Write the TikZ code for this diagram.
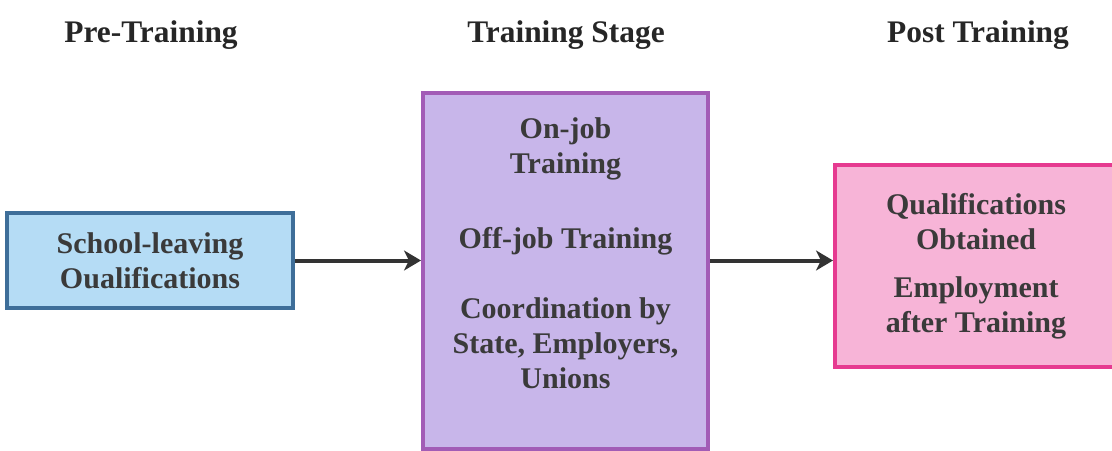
\documentclass[tikz,border=0pt]{standalone}
\usepackage{fontspec}
\setmainfont{Liberation Serif}
\usetikzlibrary{arrows.meta,positioning}

\definecolor{leavefill}{HTML}{B5DCF5}
\definecolor{leaveline}{HTML}{3E6E99}
\definecolor{trainfill}{HTML}{C8B6EA}
\definecolor{trainline}{HTML}{A25CB6}
\definecolor{postfill}{HTML}{F7B4D7}
\definecolor{postline}{HTML}{E63A90}
\definecolor{inkgray}{HTML}{3A3A3A}
\definecolor{arrowgray}{HTML}{333333}

\newcommand*{\picw}{1112}
\newcommand*{\pich}{450}
\newcommand*{\stagefont}{\fontsize{15}{17.5}\selectfont\bfseries}
\newcommand*{\headfont}{\fontsize{15.7}{18}\selectfont\bfseries}

\begin{document}
\begin{tikzpicture}
[
	x=0.5pt,
	y=0.5pt,
	label/.style={font=\stagefont,text=inkgray,inner sep=0pt,align=center},
	stagebox/.style={label,draw,line width=2pt},
	heading/.style={font=\headfont,text=black!85,inner sep=0pt,anchor=base},
	flow/.style={-{Stealth[length=8.5pt,width=10pt,inset=2.5pt]},line width=2pt,arrowgray}
]

	\useasboundingbox (0,0) rectangle (\picw,\pich);
	\clip (0,0) rectangle (\picw,\pich);

	% column headings
	\node[heading] (pre) at (151,407) {Pre-Training};
	\node[heading] (stage) at (566,407) {Training Stage};
	\node[heading] (post) at (978,407) {Post Training};

	% boxes
	\node[stagebox,fill=leavefill,draw=leaveline,minimum width=143pt,minimum height=47.5pt]
		(school) at (150,189.5) {School-leaving\\Oualifications};
	\node[stagebox,fill=trainfill,draw=trainline,minimum width=142.5pt,minimum height=178pt]
		(train) at (565.5,179) {};
	\node[stagebox,fill=postfill,draw=postline,minimum width=141pt,minimum height=101pt]
		(result) at (976,184) {Qualifications\\Obtained\\[6.5pt]Employment\\after Training};

	% text of the middle box
	\node[label,anchor=north] (trainlist) at (565.5,333)
		{On-job\\Training\\[20pt]Off-job Training\\[17.5pt]Coordination by\\State, Employers,\\Unions};

	% arrows
	\draw[flow] (school.east) -- (school.east -| train.west);
	\draw[flow] (school.east -| train.east) -- (school.east -| result.west);

\end{tikzpicture}
\end{document}
